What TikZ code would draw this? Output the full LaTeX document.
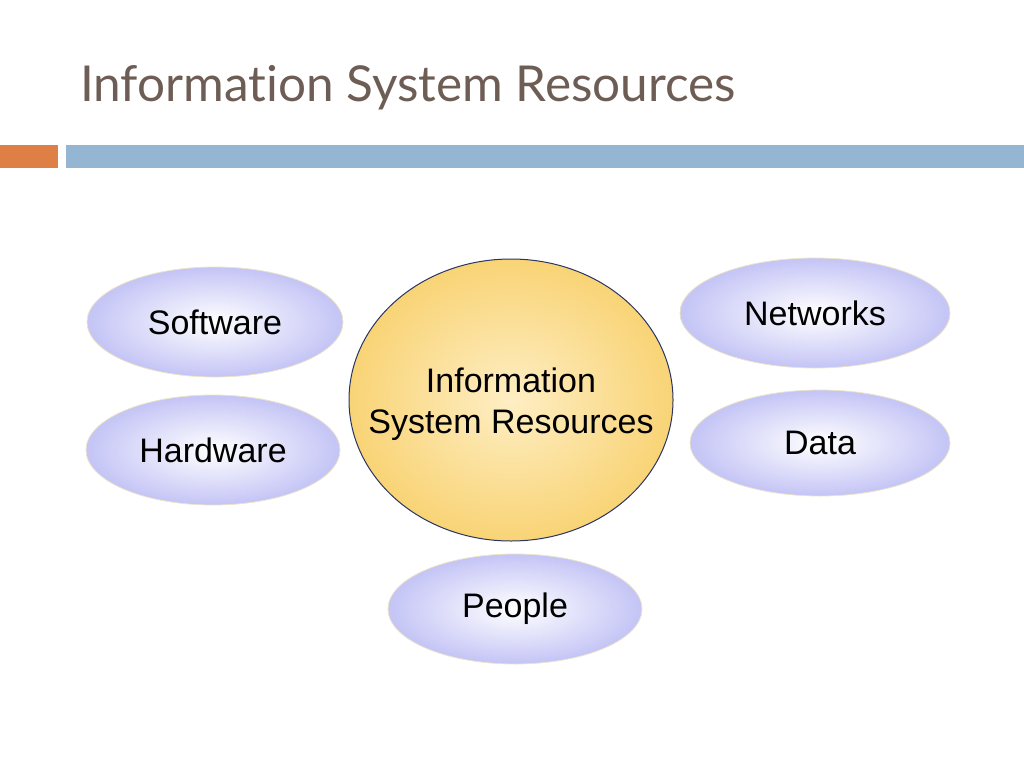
\documentclass[tikz,border=0pt]{standalone}
\usepackage{fontspec}
\setmainfont{Liberation Sans}
\newfontfamily\titlefont[Ligatures=NoCommon]{Lato}
\usepackage{xcolor}
\usetikzlibrary{shapes.geometric}

\definecolor{titlebrown}{RGB}{110,93,84}
\definecolor{barorange}{RGB}{222,128,70}
\definecolor{barblue}{RGB}{148,182,210}
\definecolor{lavender}{RGB}{196,196,246}
\definecolor{paleyellow}{RGB}{254,238,196}
\definecolor{goldyellow}{RGB}{249,212,118}
\definecolor{rimbeige}{RGB}{236,228,200}
\definecolor{rimnavy}{RGB}{40,52,100}

\begin{document}
\begin{tikzpicture}[x=1pt, y=-1pt,
resource/.style={draw=rimbeige, line width=0.8pt, ellipse, inner sep=0pt,
  shading=radial, inner color=white, outer color=lavender,
  minimum width=256pt, minimum height=110pt,
  font=\fontsize{34}{41}\selectfont},
hub/.style={draw=rimnavy, line width=1pt, ellipse, inner sep=0pt,
  shading=radial, inner color=paleyellow, outer color=goldyellow,
  minimum width=324pt, minimum height=282pt},
hubtext/.style={align=center, font=\fontsize{34}{41}\selectfont}]

\useasboundingbox (0,0) rectangle (1024,768);

% Title and bars
\node[anchor=base west, inner sep=0pt, text=titlebrown,
  font=\titlefont\fontsize{49.5}{58}\selectfont] (title) at (80,101) {Information System Resources};
\fill[barorange] (0,145) rectangle (58,168);
\fill[barblue] (66,145) rectangle (1024,168);

% Central resource circle
\node[hub] (isr) at (511,400) {};
\node[hubtext] (isrtext) at (511,404) {Information\\System Resources};

% Surrounding resources
\node[resource] (software) at (215,322) {Software};
\node[resource, minimum width=254pt] (hardware) at (213,450) {Hardware};
\node[resource, minimum width=270pt] (networks) at (815,313) {Networks};
\node[resource, minimum width=260pt, minimum height=106pt] (data) at (820,443) {Data};
\node[resource, minimum width=254pt] (people) at (515,609) {People};
\end{tikzpicture}
\end{document}
